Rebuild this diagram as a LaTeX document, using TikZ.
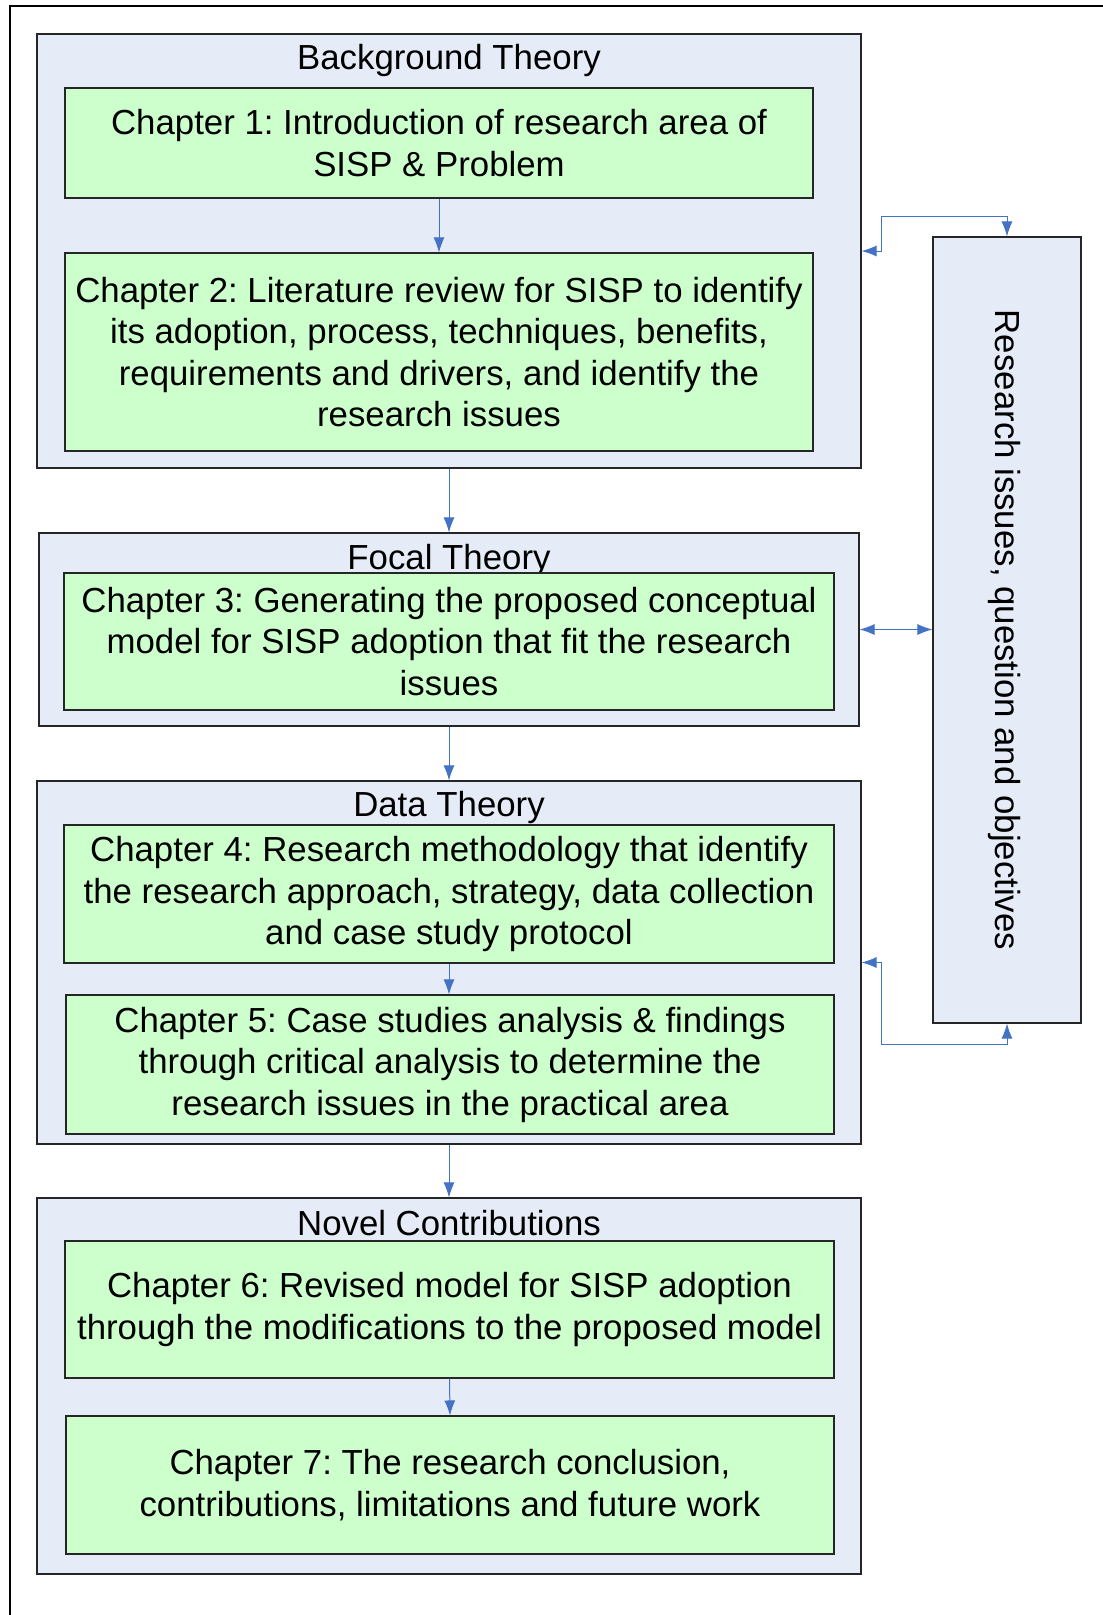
\documentclass[tikz,border=0pt]{standalone}
\usepackage{fontspec}
\setmainfont{Liberation Sans}
\usetikzlibrary{arrows.meta}
\definecolor{outerfill}{RGB}{230,236,247}
\definecolor{greenfill}{RGB}{204,255,204}
\definecolor{arrblue}{RGB}{68,114,196}
\frenchspacing
\begin{document}
\begin{tikzpicture}[x=1pt,y=-1pt,
  box/.style={draw=black!85,line width=1.1pt,inner sep=0pt,anchor=center},
  outerbox/.style={box,fill=outerfill},
  chapbox/.style={box,fill=greenfill,align=center,font=\fontsize{34.8}{41.5}\selectfont\frenchspacing},
  titletext/.style={inner sep=0pt,font=\fontsize{34.8}{41.5}\selectfont},
  conn/.style={draw=arrblue,line width=1pt,-{Latex[length=15pt,width=11pt]}},
  dconn/.style={draw=arrblue,line width=1pt,{Latex[length=15pt,width=11pt]}-{Latex[length=15pt,width=11pt]}}]
\useasboundingbox (0,0) rectangle (1103,1615);
% page frame
\draw[line width=1.3pt,black] (1103,6) -- (10,6) -- (10,1615);
% Background theory
\node[outerbox,minimum width=824pt,minimum height=434pt] (bg) at (449,251) {};
\node[titletext] (bgt) at (449,60) {Background Theory};
\node[chapbox,minimum width=748pt,minimum height=110pt] (ch1) at (439,143)
  {Chapter 1: Introduction of research area of\\SISP \& Problem};
\node[chapbox,minimum width=748pt,minimum height=198pt] (ch2) at (439,352)
  {Chapter 2: Literature review for SISP to identify\\its adoption, process, techniques, benefits,\\requirements and drivers, and identify the\\research issues};
% Focal theory
\node[outerbox,minimum width=820pt,minimum height=193pt] (focal) at (449,629.5) {};
\node[titletext] (ft) at (449,560) {Focal Theory};
\node[chapbox,minimum width=770pt,minimum height=137pt] (ch3) at (449,641.5)
  {Chapter 3: Generating the proposed conceptual\\model for SISP adoption that fit the research\\issues};
% Data theory
\node[outerbox,minimum width=824pt,minimum height=363pt] (data) at (449,962.5) {};
\node[titletext] (dt) at (449,807.5) {Data Theory};
\node[chapbox,minimum width=770pt,minimum height=138pt] (ch4) at (449,894)
  {Chapter 4: Research methodology that identify\\the research approach, strategy, data collection\\and case study protocol};
\node[chapbox,minimum width=768pt,minimum height=139pt] (ch5) at (450,1064.5)
  {Chapter 5: Case studies analysis \& findings\\through critical analysis to determine the\\research issues in the practical area};
% Novel contributions
\node[outerbox,minimum width=824pt,minimum height=376pt] (novel) at (449,1386) {};
\node[titletext] (nt) at (449,1223) {Novel Contributions};
\node[chapbox,minimum width=769pt,minimum height=137pt] (ch6) at (449.5,1309.5)
  {Chapter 6: Revised model for SISP adoption\\through the modifications to the proposed model};
\node[chapbox,minimum width=768pt,minimum height=138pt] (ch7) at (450,1485)
  {Chapter 7: The research conclusion,\\contributions, limitations and future work};
% Research issues box
\node[outerbox,minimum width=148pt,minimum height=786pt] (ri) at (1007,630) {};
\node[titletext,rotate=-90] (rit) at (1004,630) {Research issues, question and objectives};
% vertical connectors
\draw[conn] (ch1.south) -- (ch2.north);
\draw[conn] (bg.south) -- (focal.north);
\draw[conn] (focal.south) -- (data.north);
\draw[conn] (ch4.south) -- (ch5.north -| ch4.south);
\draw[conn] (data.south) -- (novel.north);
\draw[conn] (ch6.south) -- (ch7.north);
% right connectors
\coordinate (t1) at (881,216);
\coordinate (b1) at (881,1044);
\draw[dconn] (bg.east) -| (t1) -| (ri.north);
\draw[dconn] (focal.east) -- (focal.east -| ri.west);
\draw[dconn] (data.east) -| (b1) -| (ri.south);
\end{tikzpicture}
\end{document}
